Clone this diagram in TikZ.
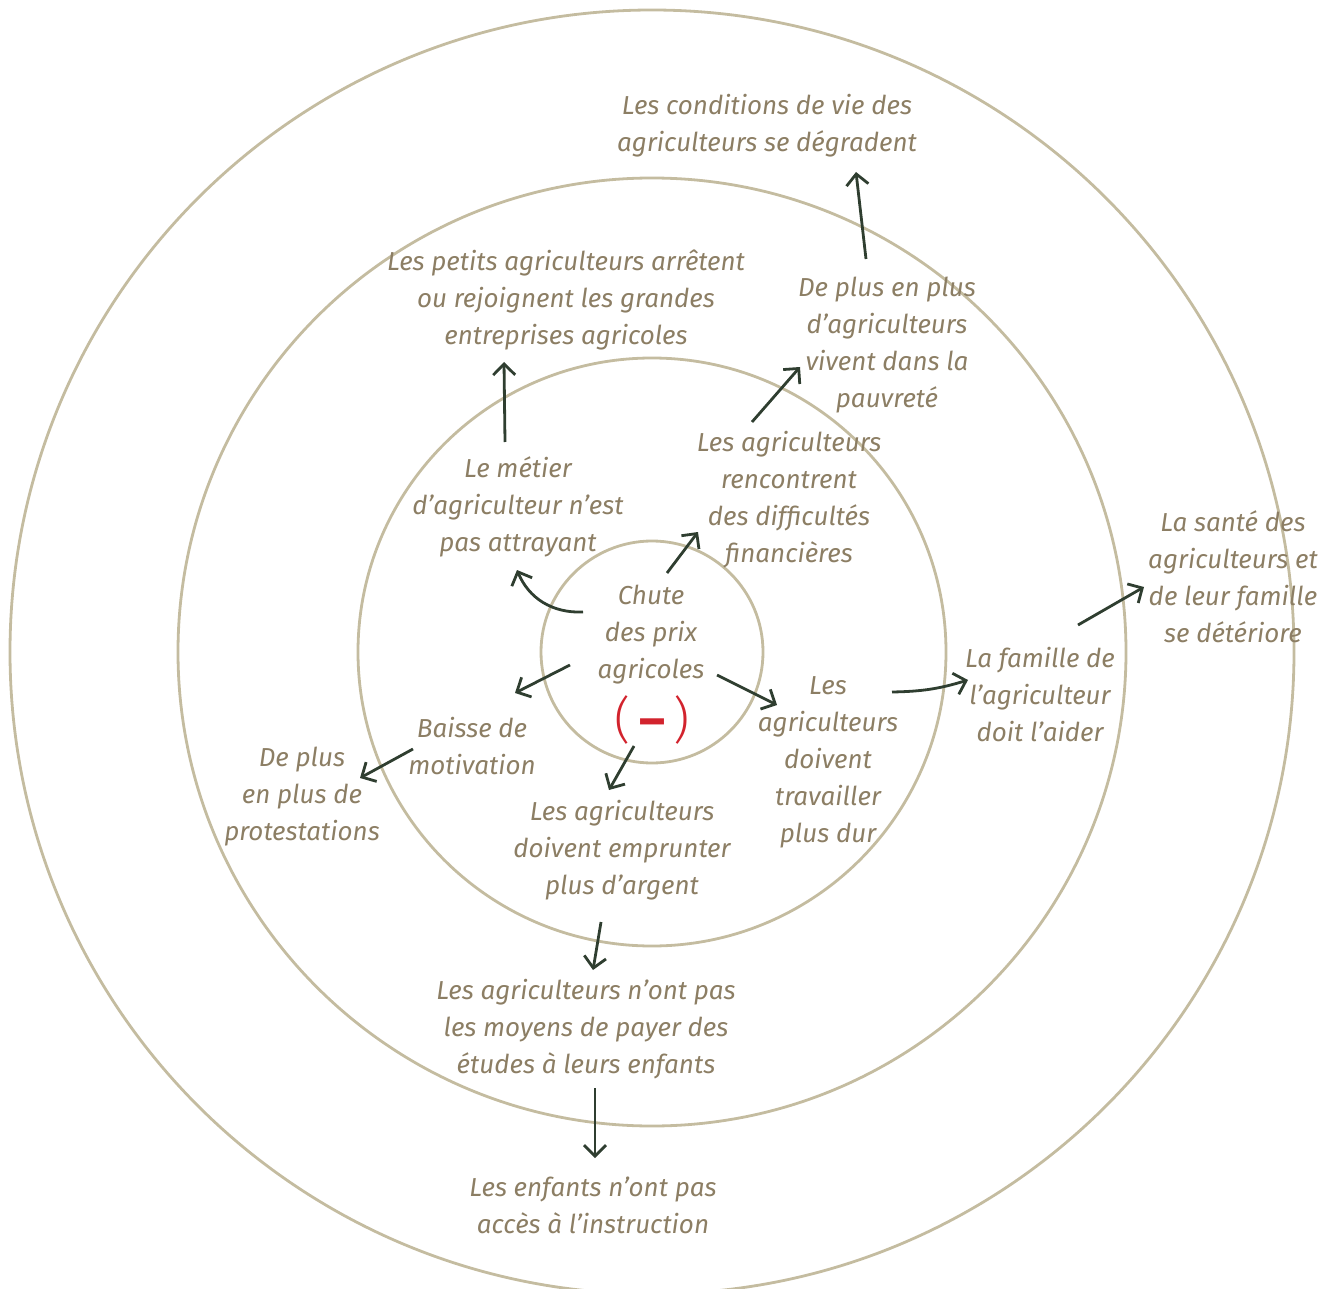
\documentclass[tikz,border=0pt]{standalone}
\usepackage{fontspec}
\setmainfont{Fira Sans}
\newfontfamily\thinfont{Fira Sans Light}
\usetikzlibrary{arrows.meta}

\definecolor{ringc}{RGB}{196,188,160}
\definecolor{labelc}{RGB}{140,126,100}
\definecolor{arrowc}{RGB}{47,62,48}
\definecolor{minusc}{RGB}{210,35,45}

\begin{document}
\begin{tikzpicture}[
    x=0.5pt,
    y=-0.5pt,
    ring/.style={
        draw=ringc,
        line width=1.4pt
    },
    lbl/.style={
        text=labelc,
        align=center,
        inner sep=1pt,
        yshift=-1pt,
        font=\fontsize{13}{18.5}\selectfont\itshape
    },
    minus/.style={
        text=minusc,
        inner sep=0pt,
        font=\fontsize{25}{25}\selectfont
    },
    arrow/.style={
        draw=arrowc,
        line width=1.4pt,
        -{Straight Barb[length=5.5pt,width=11pt]}
    }
]

\useasboundingbox (0,0) rectangle (1334,1289);
\clip (0,0) rectangle (1334,1289);

%------------------------------------------------
% Rings
%------------------------------------------------

\coordinate (mid) at (652,652);
\foreach \r in {55.5pt,147pt,237pt,321pt}
\draw[ring] (mid) circle[radius=\r];

%------------------------------------------------
% Centre
%------------------------------------------------

\node[lbl] (chute) at (651,633) {Chute\\des prix\\agricoles};
\node[minus] (minus) at (652,720) {{\thinfont(}\,\textbf{–}\,{\thinfont)}};

%------------------------------------------------
% First ring
%------------------------------------------------

\node[lbl] (metier) at (518,505) {Le métier\\d’agriculteur n’est\\pas attrayant};
\node[lbl] (finance) at (789,498) {Les agriculteurs\\rencontrent\\des difficultés\\financières};
\node[lbl] (baisse) at (472,744) {Baisse de\\motivation};
\node[lbl] (emprunt) at (622,848) {Les agriculteurs\\doivent emprunter\\plus d’argent};
\node[lbl] (travail) at (828,760) {Les\\agriculteurs\\doivent\\travailler\\plus dur};

%------------------------------------------------
% Second ring
%------------------------------------------------

\node[lbl] (petits) at (566,298) {Les petits agriculteurs arrêtent\\ou rejoignent les grandes\\entreprises agricoles};
\node[lbl] (pauvrete) at (887,343) {De plus en plus\\d’agriculteurs\\vivent dans la\\pauvreté};
\node[lbl] (famille) at (1040,693) {La famille de\\l’agriculteur\\doit l’aider};
\node[lbl] (protest) at (302,795) {De plus\\en plus de\\protestations};
\node[lbl] (etudes) at (586,1027) {Les agriculteurs n’ont pas\\les moyens de payer des\\études à leurs enfants};

%------------------------------------------------
% Outer ring
%------------------------------------------------

\node[lbl] (conditions) at (767,124) {Les conditions de vie des\\agriculteurs se dégradent};
\node[lbl] (sante) at (1233,575) {La santé des\\agriculteurs et\\de leur famille\\se détériore};
\node[lbl] (instruction) at (593,1203) {Les enfants n’ont pas\\accès à l’instruction};

%------------------------------------------------
% Arrows
%------------------------------------------------

\draw[arrow] ([shift={(-68,-23)}]chute.center) to[bend left=35] ([shift={(-1,63)}]metier.center);
\draw[arrow] ([shift={(16,-62)}]chute.center) -- ([shift={(-91,32)}]finance.center);
\draw[arrow] ([shift={(-81,30)}]chute.center) -- ([shift={(43,-53)}]baisse.center);
\draw[arrow] ([shift={(66,40)}]chute.center) -- ([shift={(-51,-57)}]travail.center);
\draw[arrow] ([shift={(-17,111)}]chute.center) -- ([shift={(-13,-60)}]emprunt.center);

\draw[arrow] ([shift={(-13,-65)}]metier.center) -- ([shift={(-62,62)}]petits.center);
\draw[arrow] ([shift={(-37,-78)}]finance.center) -- ([shift={(-87,22)}]pauvrete.center);
\draw[arrow] ([shift={(-21,-86)}]pauvrete.center) -- ([shift={(89,46)}]conditions.center);
\draw[arrow] ([shift={(-59,3)}]baisse.center) -- ([shift={(58,-19)}]protest.center);
\draw[arrow] ([shift={(64,-70)}]travail.center) to[bend right=8] ([shift={(-72,-15)}]famille.center);
\draw[arrow] ([shift={(38,-70)}]famille.center) -- ([shift={(-89,10)}]sante.center);
\draw[arrow] ([shift={(-21,72)}]emprunt.center) -- ([shift={(7,-59)}]etudes.center);
\draw[arrow] ([shift={(9,59)}]etudes.center) -- ([shift={(2,-47)}]instruction.center);

\end{tikzpicture}
\end{document}
